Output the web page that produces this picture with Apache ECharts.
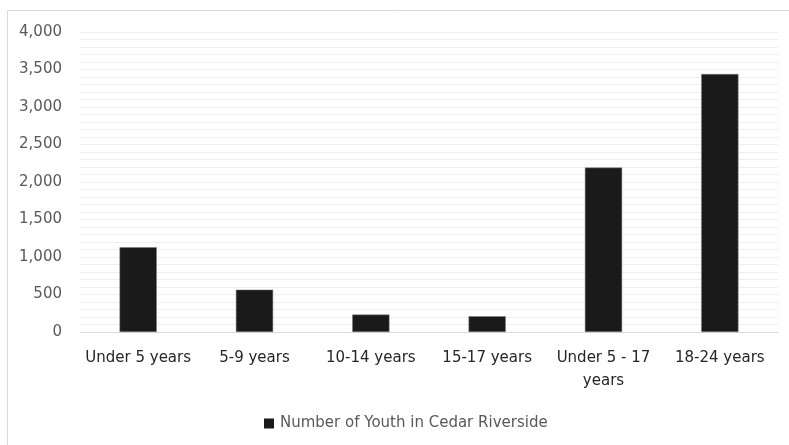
<!DOCTYPE html>
<html>
<head>
<meta charset="utf-8">
<script src="https://cdn.jsdelivr.net/npm/echarts@6/dist/echarts.min.js"></script>
<style>html,body{margin:0;padding:0;background:#fff;}#c{width:789px;height:445px;}</style>
</head>
<body>
<div id="c"></div>
<script>
const categories = ['Under 5 years', '5-9 years', '10-14 years', '15-17 years', 'Under 5 - 17\nyears', '18-24 years'];
const youthValues = [1130, 565, 232, 210, 2192, 3440];
const seriesName = 'Number of Youth in Cedar Riverside';
const yTicks = [0, 500, 1000, 1500, 2000, 2500, 3000, 3500, 4000];

const chart = echarts.init(document.getElementById('c'), null, {renderer: 'canvas'});
const font = 'DejaVu Sans';
chart.setOption({
  animation: false,
  backgroundColor: '#fff',
  graphic: [{
    type: 'rect', shape: {x: 7.5, y: 10.5, width: 820, height: 470},
    style: {fill: 'none', stroke: '#d9d9d9', lineWidth: 1}, silent: true, z: -1
  }],
  grid: {left: 80, right: 11, top: 32, bottom: 113, containLabel: false},
  legend: {
    top: 411, left: 259, padding: 5, itemWidth: 10, itemHeight: 10, itemGap: 6,
    icon: 'rect',
    itemStyle: {borderWidth: 0, color: '#1a1a1a'},
    textStyle: {color: '#595959', fontSize: 15, fontFamily: font, padding: [0, 0, 0, 1]},
    data: [seriesName]
  },
  xAxis: {
    type: 'category', data: categories,
    axisTick: {show: false},
    axisLine: {lineStyle: {color: '#d9d9d9', width: 1}},
    axisLabel: {color: '#262626', fontSize: 15, fontFamily: font, margin: 15, lineHeight: 23, interval: 0}
  },
  yAxis: {
    type: 'value', min: 0, max: 4000, interval: 100,
    axisLine: {show: false}, axisTick: {show: false},
    splitLine: {lineStyle: {color: '#efefef', width: 1}},
    axisLabel: {
      color: '#595959', fontSize: 15, fontFamily: font, margin: 18,
      formatter: v => yTicks.includes(v) ? v.toLocaleString('en-US') : ''
    }
  },
  series: [{
    name: seriesName, type: 'bar', data: youthValues,
    barWidth: '32%',
    itemStyle: {color: '#1a1a1a', borderColor: '#7f7f7f', borderWidth: 0.5}
  }]
});
</script>
</body>
</html>
